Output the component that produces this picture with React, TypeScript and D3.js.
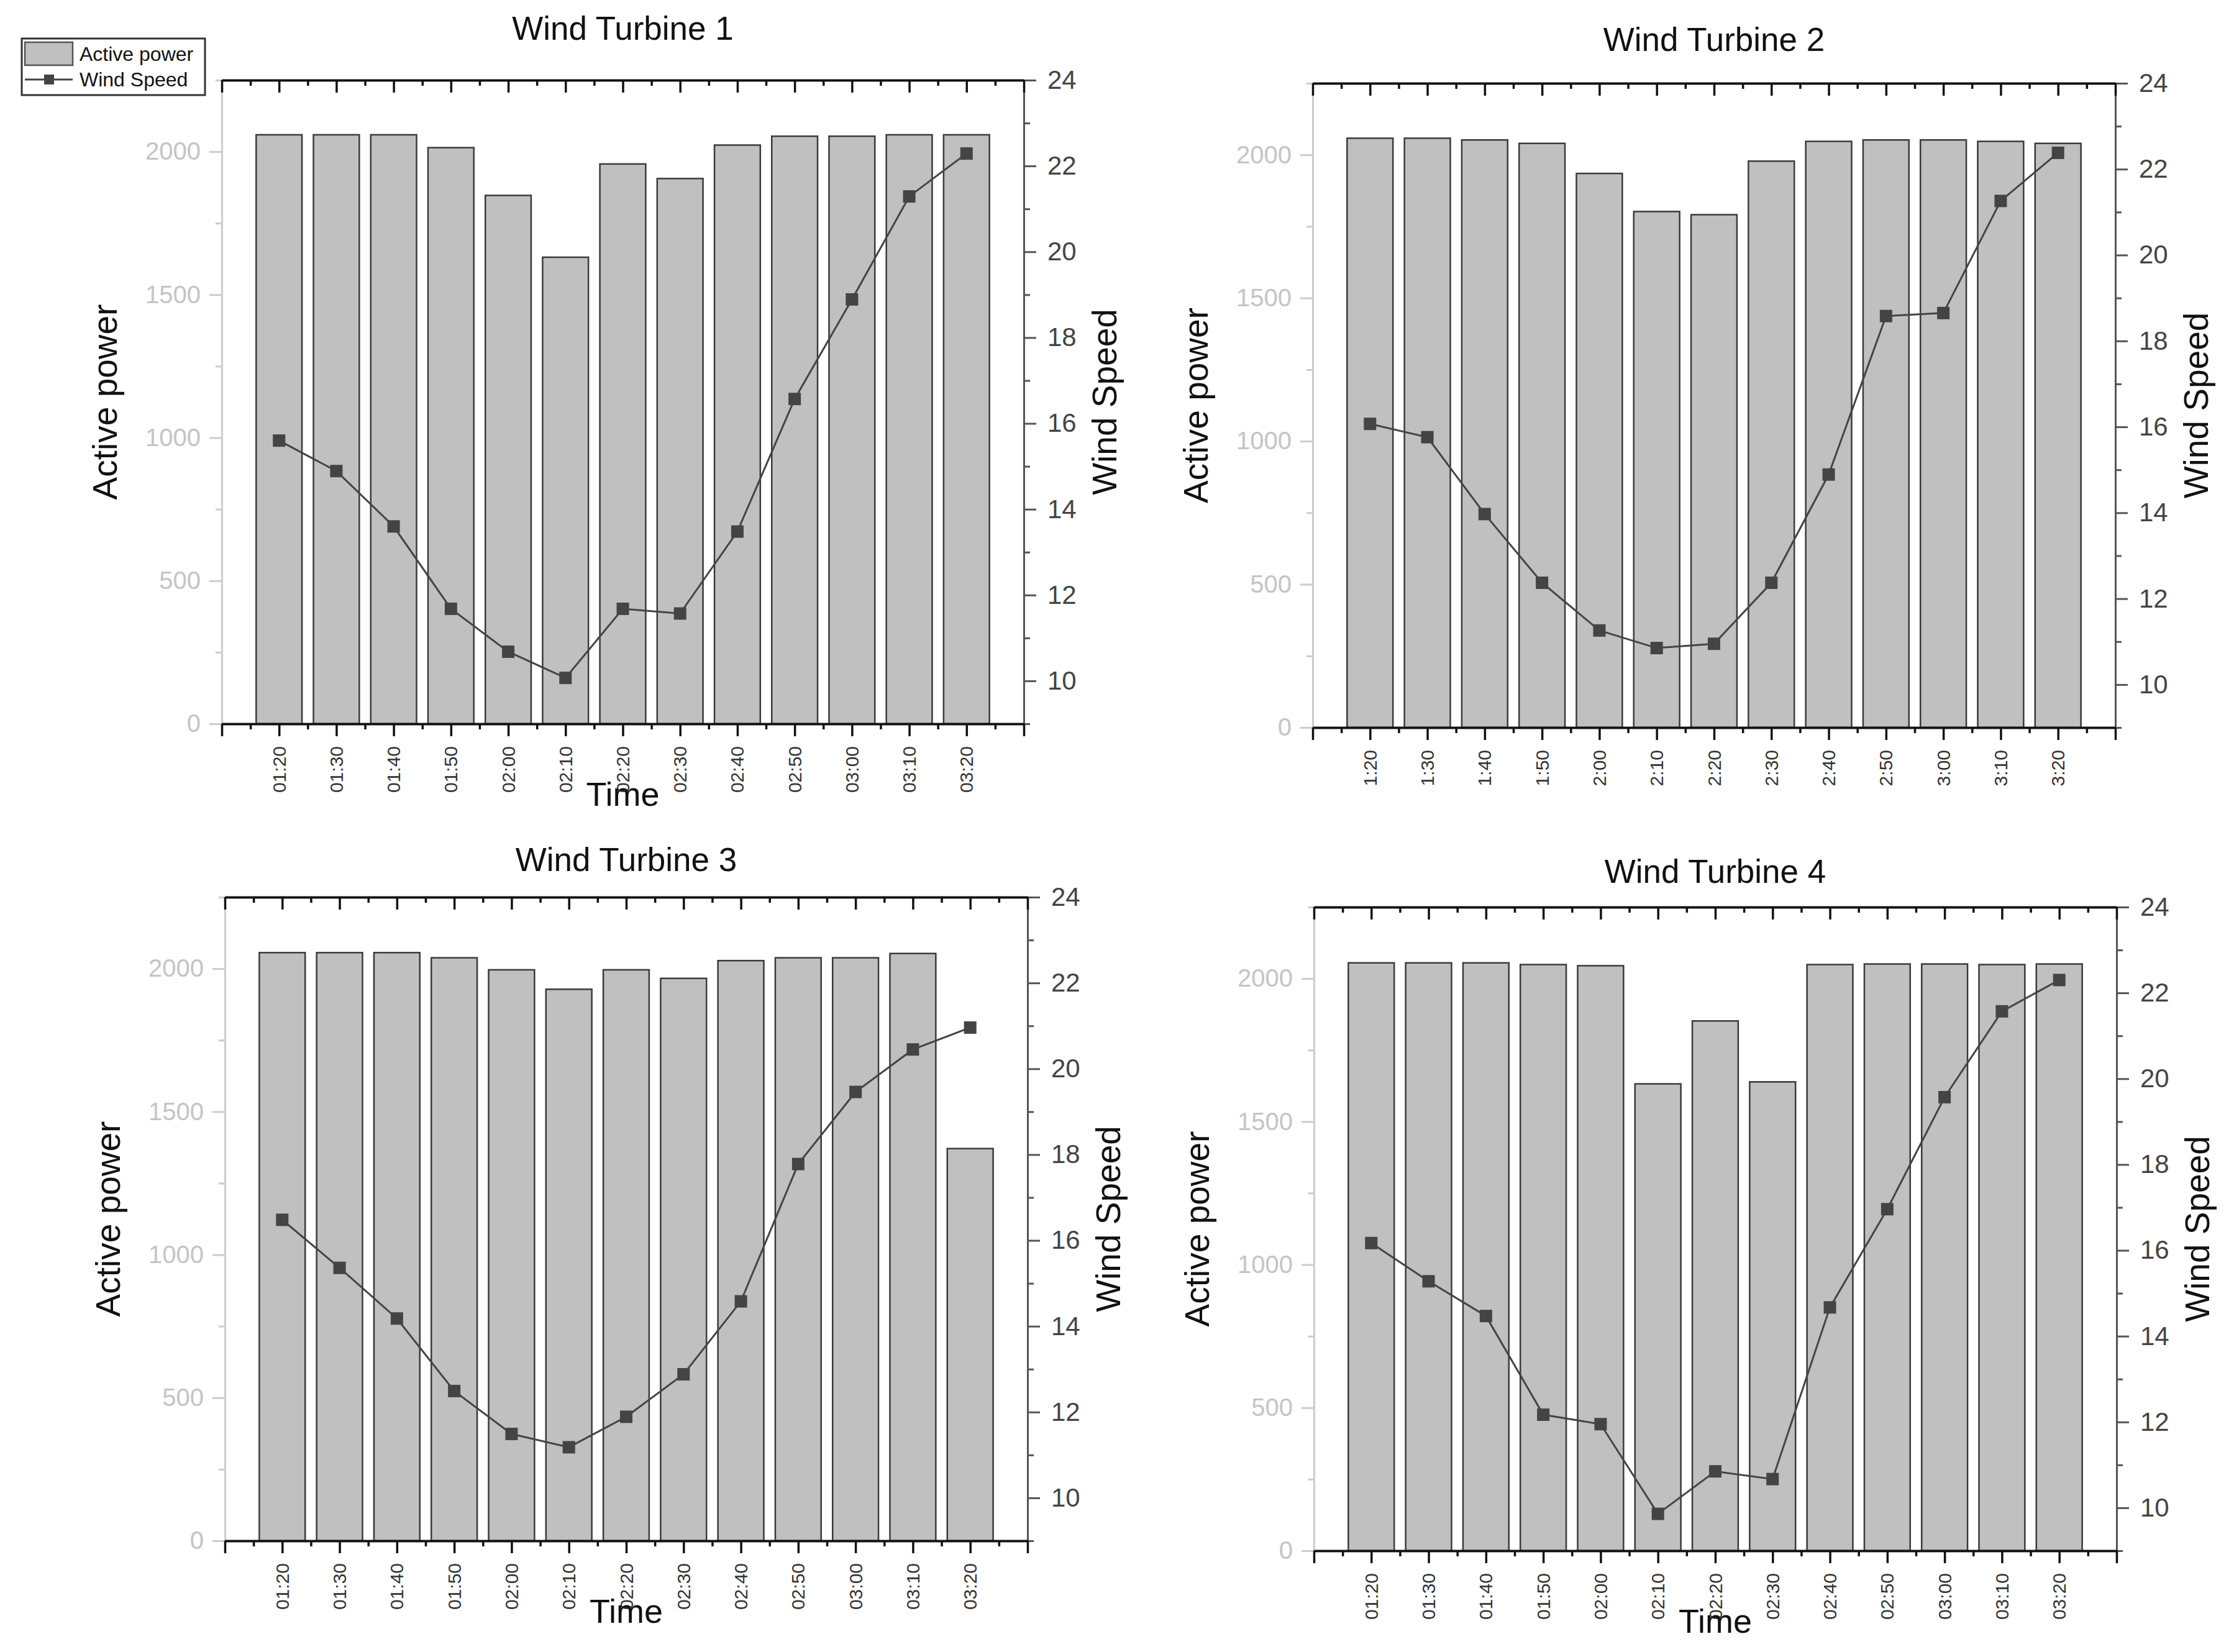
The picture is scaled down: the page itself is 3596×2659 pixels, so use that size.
import React, { useEffect, useRef } from 'react';
import * as d3 from 'd3';

// time labels (turbine 2 uses a shorter format)
const timeLabels = ['01:20', '01:30', '01:40', '01:50', '02:00', '02:10', '02:20', '02:30', '02:40', '02:50', '03:00', '03:10', '03:20'];
const timeLabelsShort = ['1:20', '1:30', '1:40', '1:50', '2:00', '2:10', '2:20', '2:30', '2:40', '2:50', '3:00', '3:10', '3:20'];

const power1 = [2059, 2059, 2059, 2014, 1847, 1631, 1957, 1906, 2023, 2054, 2054, 2059, 2059];
const wind1 = [15.6, 14.89, 13.6, 11.68, 10.68, 10.07, 11.68, 11.57, 13.48, 16.57, 18.89, 21.29, 22.29];

const power2 = [2058, 2058, 2052, 2040, 1935, 1802, 1791, 1978, 2047, 2052, 2052, 2047, 2040];
const wind2 = [16.07, 15.76, 13.97, 12.37, 11.26, 10.85, 10.95, 12.37, 14.89, 18.58, 18.65, 21.26, 22.38];

const power3 = [2056, 2056, 2056, 2038, 1996, 1928, 1996, 1966, 2028, 2038, 2038, 2053, 1371];
const wind3 = [16.48, 15.36, 14.18, 12.49, 11.49, 11.18, 11.89, 12.88, 14.58, 17.78, 19.46, 20.45, 20.96];

const power4 = [2055, 2055, 2055, 2049, 2045, 1632, 1852, 1639, 2049, 2051, 2051, 2049, 2051];
const wind4 = [16.17, 15.28, 14.47, 12.17, 11.95, 9.86, 10.85, 10.67, 14.67, 16.96, 19.57, 21.57, 22.3];

const titles = ['Wind Turbine 1', 'Wind Turbine 2', 'Wind Turbine 3', 'Wind Turbine 4'];
const powerTicks = [0, 500, 1000, 1500, 2000];
const powerMinor = [250, 750, 1250, 1750, 2250];
const windTicks = [10, 12, 14, 16, 18, 20, 22, 24];
const windMinor = [9, 11, 13, 15, 17, 19, 21, 23];

const W = 3596;
const H = 2659;
const FONT = '"Liberation Sans", Arial, sans-serif';

// plot rectangles + title placement
const panels = [
  { power: power1, wind: wind1, labels: timeLabels, title: titles[0], left: 357, right: 1648, top: 129, bottom: 1165, titleY: 64, showTime: true },
  { power: power2, wind: wind2, labels: timeLabelsShort, title: titles[1], left: 2113, right: 3405, top: 134, bottom: 1171, titleY: 82, showTime: false },
  { power: power3, wind: wind3, labels: timeLabels, title: titles[2], left: 362, right: 1654, top: 1444, bottom: 2480, titleY: 1402, showTime: true },
  { power: power4, wind: wind4, labels: timeLabels, title: titles[3], left: 2115, right: 3407, top: 1460, bottom: 2496, titleY: 1421, showTime: true },
];

const App: React.FC = () => {
  const svgRef = useRef<SVGSVGElement>(null);

  useEffect(() => {
    if (!svgRef.current) return;
    const svg = d3.select(svgRef.current);
    svg.selectAll('*').remove();

    svg.append('rect').attr('width', W).attr('height', H).attr('fill', '#fff');

    const blank = () => '';
    const plain = d3.format('d');

    panels.forEach(p => {
      const g = svg.append('g');
      const x = d3.scaleLinear().domain([-1, 13]).range([p.left, p.right]);
      const yL = d3.scaleLinear().domain([0, 2250]).range([p.bottom, p.top]);
      const yR = d3.scaleLinear().domain([9, 24]).range([p.bottom, p.top]);
      const step = x(1) - x(0);
      const bw = step * 0.8;

      // bars
      g.append('g')
        .selectAll('rect')
        .data(p.power)
        .join('rect')
        .attr('x', (_, i) => x(i) - bw / 2)
        .attr('y', d => yL(d))
        .attr('width', bw)
        .attr('height', d => yL(0) - yL(d))
        .attr('fill', '#c0c0c0')
        .attr('stroke', '#3a3a3a')
        .attr('stroke-width', 2.5);

      // left axis (light grey)
      const leftMinor = g.append('g').attr('transform', `translate(${p.left},0)`)
        .call(d3.axisLeft(yL).tickValues(powerMinor).tickSize(10).tickSizeOuter(0).tickFormat(blank));
      const left = g.append('g').attr('transform', `translate(${p.left},0)`)
        .call(d3.axisLeft(yL).tickValues(powerTicks).tickSize(20).tickSizeOuter(0).tickPadding(14).tickFormat(plain));
      [leftMinor, left].forEach(a => a.selectAll('path,line').attr('stroke', '#cccccc').attr('stroke-width', 3));
      left.selectAll('text').attr('fill', '#c4c4c4').attr('font-size', 40).attr('font-family', FONT);

      // right axis
      const rightMinor = g.append('g').attr('transform', `translate(${p.right},0)`)
        .call(d3.axisRight(yR).tickValues(windMinor).tickSize(10).tickSizeOuter(0).tickFormat(blank));
      const right = g.append('g').attr('transform', `translate(${p.right},0)`)
        .call(d3.axisRight(yR).tickValues(windTicks).tickSize(20).tickSizeOuter(0).tickPadding(18).tickFormat(plain));
      [rightMinor, right].forEach(a => a.selectAll('path,line').attr('stroke', '#555').attr('stroke-width', 3));
      right.selectAll('text').attr('fill', '#444').attr('font-size', 42).attr('font-family', FONT);

      // bottom axis
      const b1 = g.append('g').attr('transform', `translate(0,${p.bottom})`)
        .call(d3.axisBottom(x).tickValues(d3.range(-0.5, 13, 1)).tickSize(9).tickSizeOuter(0).tickFormat(blank));
      const b2 = g.append('g').attr('transform', `translate(0,${p.bottom})`)
        .call(d3.axisBottom(x).tickValues(d3.range(-1, 14)).tickSize(20).tickSizeOuter(0).tickFormat(blank));

      // top axis, ticks pointing in
      const t1 = g.append('g').attr('transform', `translate(0,${p.top})`)
        .call(d3.axisTop(x).tickValues(d3.range(-0.5, 13, 1)).tickSize(-9).tickSizeOuter(0).tickFormat(blank));
      const t2 = g.append('g').attr('transform', `translate(0,${p.top})`)
        .call(d3.axisTop(x).tickValues(d3.range(-1, 14)).tickSize(-20).tickSizeOuter(0).tickFormat(blank));
      [b1, b2, t1, t2].forEach(a => a.selectAll('path,line').attr('stroke', '#111').attr('stroke-width', 3.5));

      // rotated time labels
      g.append('g')
        .selectAll('text')
        .data(p.labels)
        .join('text')
        .attr('transform', (_, i) => `translate(${x(i)},${p.bottom + 36}) rotate(-90)`)
        .attr('text-anchor', 'end')
        .attr('dy', '0.35em')
        .attr('font-size', 30)
        .attr('font-family', FONT)
        .attr('fill', '#333')
        .text(d => d);

      // wind speed line + square markers
      const line = d3.line<number>().x((_, i) => x(i)).y(d => yR(d));
      g.append('path')
        .datum(p.wind)
        .attr('d', line)
        .attr('fill', 'none')
        .attr('stroke', '#444')
        .attr('stroke-width', 3);
      g.append('g')
        .selectAll('rect')
        .data(p.wind)
        .join('rect')
        .attr('x', (_, i) => x(i) - 10)
        .attr('y', d => yR(d) - 10)
        .attr('width', 20)
        .attr('height', 20)
        .attr('fill', '#444');

      // titles and axis labels
      const cx = (p.left + p.right) / 2;
      const cy = (p.top + p.bottom) / 2;
      g.append('text')
        .attr('x', cx).attr('y', p.titleY)
        .attr('text-anchor', 'middle')
        .attr('font-size', 53).attr('font-family', FONT).attr('fill', '#111')
        .text(p.title);
      g.append('text')
        .attr('transform', `translate(${p.left - 188},${cy}) rotate(-90)`)
        .attr('text-anchor', 'middle').attr('dy', '0.35em')
        .attr('font-size', 55).attr('font-family', FONT).attr('fill', '#111')
        .text('Active power');
      g.append('text')
        .attr('transform', `translate(${p.right + 130},${cy}) rotate(-90)`)
        .attr('text-anchor', 'middle').attr('dy', '0.35em')
        .attr('font-size', 55).attr('font-family', FONT).attr('fill', '#111')
        .text('Wind Speed');
      if (p.showTime) {
        g.append('text')
          .attr('x', cx).attr('y', p.bottom + 132)
          .attr('text-anchor', 'middle')
          .attr('font-size', 54).attr('font-family', FONT).attr('fill', '#111')
          .text('Time');
      }
    });

    // legend
    const lg = svg.append('g');
    lg.append('rect').attr('x', 35).attr('y', 62).attr('width', 295).attr('height', 91)
      .attr('fill', '#fff').attr('stroke', '#333').attr('stroke-width', 3);
    lg.append('rect').attr('x', 40).attr('y', 68).attr('width', 77).attr('height', 37)
      .attr('fill', '#c0c0c0').attr('stroke', '#555').attr('stroke-width', 2.5);
    lg.append('line').attr('x1', 40).attr('x2', 117).attr('y1', 128).attr('y2', 128)
      .attr('stroke', '#444').attr('stroke-width', 3);
    lg.append('rect').attr('x', 71).attr('y', 120).attr('width', 16).attr('height', 16).attr('fill', '#444');
    lg.append('text').attr('x', 128).attr('y', 98).attr('font-size', 32).attr('font-family', FONT).attr('fill', '#111').text('Active power');
    lg.append('text').attr('x', 128).attr('y', 139).attr('font-size', 32).attr('font-family', FONT).attr('fill', '#111').text('Wind Speed');
  }, []);

  return (
    <svg ref={svgRef} width={W} height={H} style={{ position: 'absolute', left: 0, top: 0, display: 'block' }} />
  );
};

export default App;
